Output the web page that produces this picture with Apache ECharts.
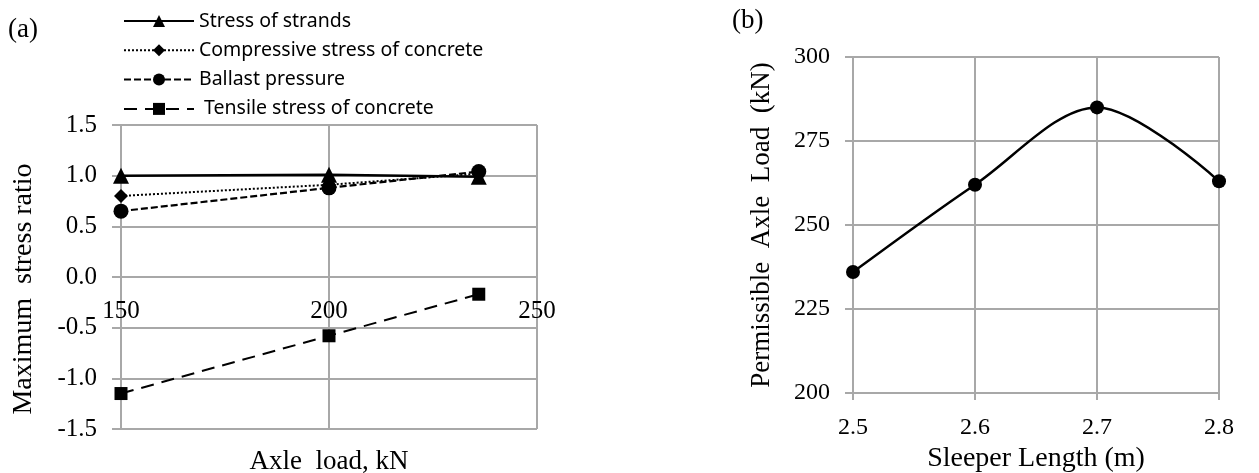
<!DOCTYPE html>
<html><head><meta charset="utf-8">
<script src="https://cdn.jsdelivr.net/npm/echarts@6/dist/echarts.min.js"></script>
<style>html,body{margin:0;padding:0;background:#fff}#c{width:1259px;height:473px}</style>
</head><body><div id="c"></div>
<script>
// ---- data (a) ----
const axleLoads = [150, 200, 236];
const strandsStress = [1.00, 1.01, 0.99];
const compressiveStress = [0.80, 0.91, 1.02];
const ballastPressure = [0.65, 0.88, 1.04];
const tensileStress = [-1.15, -0.58, -0.17];
const leftXTicks = [150, 200, 250];
const leftYTicks = [-1.5, -1.0, -0.5, 0.0, 0.5, 1.0, 1.5];
const seriesNames = ['Stress of strands', 'Compressive stress of concrete', 'Ballast pressure', 'Tensile stress of concrete'];
// ---- data (b) ----
const sleeperLengths = [2.5, 2.6, 2.7, 2.8];
const permissibleLoad = [236, 262, 285, 263];
const rightYTicks = [200, 225, 250, 275, 300];

const gray = '#a8a8a8';
const serif = '"Liberation Serif","Times New Roman",serif';
const sans = '"Noto Sans","Liberation Sans",sans-serif';
const pairs = (xs, ys) => xs.map((x, i) => [x, ys[i]]);

// layout of panel (a)
const gA = { left: 121, top: 125, width: 416, height: 304 };
const yMinA = leftYTicks[0], yMaxA = leftYTicks[leftYTicks.length - 1];
// x axis of (a) crosses the y axis at value 0 (Excel style)
const zeroOffsetA = -gA.height * (0 - yMinA) / (yMaxA - yMinA);

const chart = echarts.init(document.getElementById('c'));
const gridLine = { show: true, lineStyle: { color: gray, width: 2 } };
const lbl = (size, margin, fmt) => ({ color: '#000', fontFamily: serif, fontSize: size, margin: margin, formatter: fmt });
const nameStyle = { color: '#000', fontFamily: serif, fontSize: 27 };

chart.setOption({
  animation: false,
  backgroundColor: '#fff',
  graphic: [
    { type: 'text', left: 8, top: 16, style: { text: '(a)', font: '27px ' + serif, fill: '#000' } },
    { type: 'text', left: 732, top: 7, style: { text: '(b)', font: '27px ' + serif, fill: '#000' } }
  ],
  legend: {
    data: seriesNames,
    orient: 'vertical',
    left: 123, top: 11, padding: 0,
    itemWidth: 70, itemHeight: 15, itemGap: 9.3,
    textStyle: { color: '#000', fontFamily: sans, fontSize: 19.5, lineHeight: 20 },
    formatter: n => n === seriesNames[3] ? ' ' + n : n
  },
  grid: [
    Object.assign({ outerBoundsMode: 'none', containLabel: false }, gA),
    { left: 853, top: 57, width: 366, height: 336, outerBoundsMode: 'none', containLabel: false }
  ],
  xAxis: [
    {
      type: 'value', gridIndex: 0, position: 'bottom', offset: zeroOffsetA,
      min: leftXTicks[0], max: leftXTicks[leftXTicks.length - 1], interval: leftXTicks[1] - leftXTicks[0],
      axisLine: { show: true, onZero: false, lineStyle: { color: gray, width: 2 } },
      axisTick: { show: false },
      axisLabel: lbl(25, 22, v => String(v)),
      splitLine: gridLine,
      name: 'Axle  load, kN', nameLocation: 'middle', nameGap: 171, nameTextStyle: nameStyle
    },
    {
      type: 'value', gridIndex: 1,
      min: sleeperLengths[0], max: sleeperLengths[sleeperLengths.length - 1], interval: 0.1,
      axisLine: { show: true, lineStyle: { color: gray, width: 2 } },
      axisTick: { show: true, length: 7, lineStyle: { color: gray, width: 2 } },
      axisLabel: lbl(24, 23, v => v.toFixed(1)),
      splitLine: gridLine,
      name: 'Sleeper Length (m)', nameLocation: 'middle', nameGap: 51, nameTextStyle: Object.assign({}, nameStyle, { fontSize: 28 })
    }
  ],
  yAxis: [
    {
      type: 'value', gridIndex: 0,
      min: yMinA, max: yMaxA, interval: 0.5,
      axisLine: { show: true, onZero: false, lineStyle: { color: gray, width: 2 } },
      axisTick: { show: true, length: 9, lineStyle: { color: gray, width: 2 } },
      axisLabel: lbl(25, 24, v => v.toFixed(1)),
      splitLine: gridLine,
      name: 'Maximum  stress ratio', nameLocation: 'middle', nameRotate: 90, nameGap: 83,
      nameTextStyle: Object.assign({}, nameStyle, { fontSize: 28, padding: [0, 24, 0, 0] })
    },
    {
      type: 'value', gridIndex: 1,
      min: rightYTicks[0], max: rightYTicks[rightYTicks.length - 1], interval: rightYTicks[1] - rightYTicks[0],
      axisLine: { show: true, onZero: false, lineStyle: { color: gray, width: 2 } },
      axisTick: { show: true, length: 8, lineStyle: { color: gray, width: 2 } },
      axisLabel: lbl(24, 23, v => String(v)),
      splitLine: gridLine,
      name: 'Permissible  Axle  Load  (kN)', nameLocation: 'middle', nameRotate: 90, nameGap: 78, nameTextStyle: nameStyle
    }
  ],
  series: [
    { name: seriesNames[3], type: 'line', xAxisIndex: 0, yAxisIndex: 0, data: pairs(axleLoads, tensileStress),
      symbol: 'rect', symbolSize: 13, itemStyle: { color: '#000' }, lineStyle: { color: '#000', width: 2, type: [13, 8] } },
    { name: seriesNames[2], type: 'line', xAxisIndex: 0, yAxisIndex: 0, data: pairs(axleLoads, ballastPressure),
      symbol: 'circle', symbolSize: 15, itemStyle: { color: '#000' }, lineStyle: { color: '#000', width: 2.2, type: [7, 3] } },
    { name: seriesNames[1], type: 'line', xAxisIndex: 0, yAxisIndex: 0, data: pairs(axleLoads, compressiveStress),
      symbol: 'diamond', symbolSize: 14, itemStyle: { color: '#000' }, lineStyle: { color: '#000', width: 2, type: [2, 2] } },
    { name: seriesNames[0], type: 'line', xAxisIndex: 0, yAxisIndex: 0, data: pairs(axleLoads, strandsStress),
      symbol: 'triangle', symbolSize: 16, itemStyle: { color: '#000' }, lineStyle: { color: '#000', width: 2.5 } },
    { name: 'Permissible axle load', type: 'line', xAxisIndex: 1, yAxisIndex: 1, data: pairs(sleeperLengths, permissibleLoad),
      smooth: 0.33, symbol: 'circle', symbolSize: 14, itemStyle: { color: '#000' }, lineStyle: { color: '#000', width: 2.5 } }
  ]
});
</script></body></html>
